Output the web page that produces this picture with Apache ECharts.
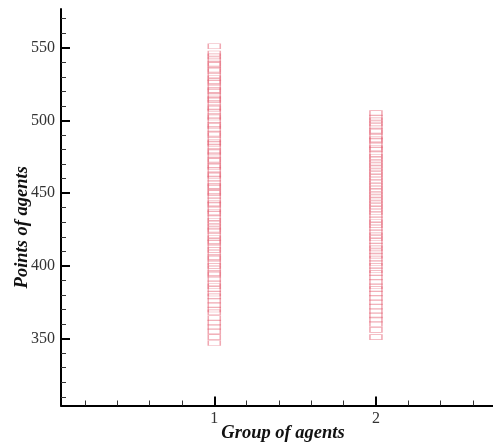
<!DOCTYPE html>
<html>
<head>
<meta charset="utf-8">
<script src="https://cdn.jsdelivr.net/npm/echarts@6/dist/echarts.min.js"></script>
<style>html,body{margin:0;padding:0;background:#fff;}#c{width:493px;height:444px;}</style>
</head>
<body>
<div id="c"></div>
<script>
const groups = [1, 2];
const group1Points = [551, 546, 544, 542, 539, 538, 535, 534, 531, 529, 527, 526, 523, 521, 520, 517, 515, 514, 512, 509, 508, 506, 503, 502, 500, 497, 496, 494, 491, 490, 487, 485, 484, 482, 479, 478, 476, 473, 472, 469, 468, 466, 463, 462, 460, 457, 455, 454, 451, 450, 448, 445, 443, 442, 439, 437, 436, 433, 431, 429, 427, 425, 424, 421, 419, 417, 416, 413, 411, 409, 406, 405, 402, 400, 398, 395, 394, 391, 388, 386, 384, 381, 379, 376, 373, 370, 368, 364, 361, 358, 355, 351, 347];
const group2Points = [505, 502, 500, 498, 496, 493, 492, 489, 487, 486, 483, 481, 480, 477, 475, 473, 471, 469, 467, 465, 463, 461, 459, 457, 455, 453, 451, 449, 447, 445, 443, 441, 439, 437, 435, 432, 430, 428, 426, 423, 421, 419, 417, 414, 412, 410, 407, 405, 402, 400, 397, 395, 392, 389, 386, 384, 381, 378, 375, 372, 369, 366, 363, 360, 356, 351];
const yMajorTicks = [350, 400, 450, 500, 550];
const yMinorTicks = [310, 320, 330, 340, 360, 370, 380, 390, 410, 420, 430, 440, 460, 470, 480, 490, 510, 520, 530, 540, 560, 570];
const xMajorTicks = [1, 2];
const xMinorTicks = [0.2, 0.4, 0.6, 0.8, 1.2, 1.4, 1.6, 1.8, 2.2, 2.4, 2.6];

const serif = 'Liberation Serif';
const chart = echarts.init(document.getElementById('c'), null, {renderer: 'canvas'});

const data = [];
group1Points.forEach(v => data.push([groups[0], v]));
group2Points.forEach(v => data.push([groups[1], v]));

const yMin = 304, yMax = 576.6, xMin = 0.052, xMax = 2.724;

chart.setOption({
  animation: false,
  backgroundColor: '#fff',
  grid: {left: 61, right: 0, top: 9, bottom: 38.5, containLabel: false, outerBoundsMode: 'none'},
  xAxis: [{
    type: 'value', position: 'bottom', min: xMin, max: xMax,
    axisLine: {show: true, lineStyle: {color: '#000', width: 2}},
    axisTick: {show: true, inside: true, length: 9, lineStyle: {color: '#000', width: 2}, customValues: xMajorTicks},
    axisLabel: {show: true, customValues: xMajorTicks, fontFamily: serif, fontSize: 16, color: '#333', margin: 5},
    splitLine: {show: false},
    name: 'Group of agents', nameLocation: 'middle', nameGap: 18, nameMoveOverlap: false,
    nameTextStyle: {fontFamily: serif, fontSize: 18.5, fontWeight: 'bold', fontStyle: 'italic', color: '#111', padding: [0, 0, 0, 12]}
  }, {
    type: 'value', position: 'bottom', min: xMin, max: xMax,
    axisLine: {show: false},
    axisTick: {show: true, inside: true, length: 5, lineStyle: {color: '#333', width: 1}, customValues: xMinorTicks},
    axisLabel: {show: false},
    splitLine: {show: false}
  }],
  yAxis: [{
    type: 'value', position: 'left', min: yMin, max: yMax,
    axisLine: {show: true, lineStyle: {color: '#000', width: 2}},
    axisTick: {show: true, inside: true, length: 9, lineStyle: {color: '#000', width: 2}, customValues: yMajorTicks},
    axisLabel: {show: true, customValues: yMajorTicks, fontFamily: serif, fontSize: 16, color: '#333', margin: 6},
    splitLine: {show: false},
    name: 'Points of agents', nameLocation: 'middle', nameGap: 29, nameRotate: 90, nameMoveOverlap: false,
    nameTextStyle: {fontFamily: serif, fontSize: 18.5, fontWeight: 'bold', fontStyle: 'italic', color: '#111', padding: [0, 40, 0, 0]}
  }, {
    type: 'value', position: 'left', min: yMin, max: yMax,
    axisLine: {show: false},
    axisTick: {show: true, inside: true, length: 5, lineStyle: {color: '#333', width: 1}, customValues: yMinorTicks},
    axisLabel: {show: false},
    splitLine: {show: false}
  }],
  series: [{
    type: 'scatter', xAxisIndex: 0, yAxisIndex: 0,
    symbol: 'rect', symbolSize: [12, 5],
    itemStyle: {color: 'rgba(255,255,255,0)', borderColor: 'rgba(228,100,118,0.7)', borderWidth: 1},
    data: data
  }]
});
</script>
</body>
</html>
